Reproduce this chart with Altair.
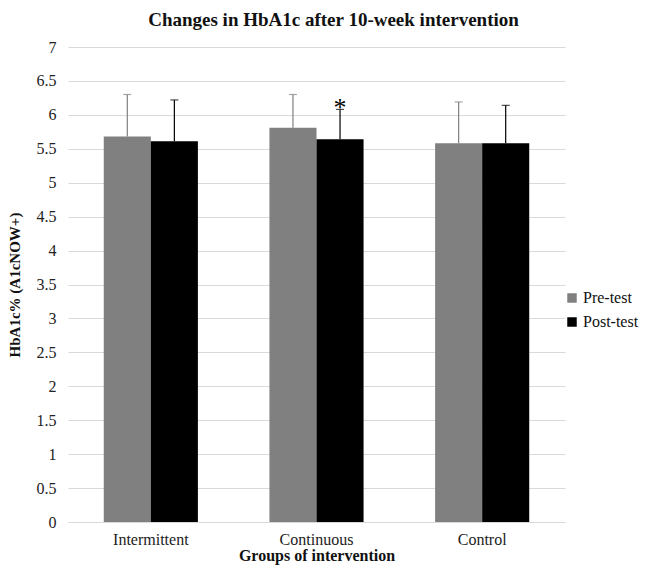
import altair as alt
import pandas as pd

groups = ["Intermittent", "Continuous", "Control"]
series = ["Pre-test", "Post-test"]
pre_mean = [5.68, 5.81, 5.58]
post_mean = [5.61, 5.64, 5.58]
pre_upper = [6.30, 6.30, 6.19]
post_upper = [6.22, 6.08, 6.14]
y_ticks = [0, 0.5, 1, 1.5, 2, 2.5, 3, 3.5, 4, 4.5, 5, 5.5, 6, 6.5, 7]
sig_group = ["Continuous"]
sig_series = ["Post-test"]
sig_pos = [6.2]

rows = []
for i, g in enumerate(groups):
    rows.append({"group": g, "series": "Pre-test", "value": pre_mean[i], "upper": pre_upper[i]})
    rows.append({"group": g, "series": "Post-test", "value": post_mean[i], "upper": post_upper[i]})
df = pd.DataFrame(rows)
sig_df = pd.DataFrame({"group": sig_group, "series": sig_series, "pos": sig_pos, "label": ["*"]})

FONT = "Liberation Serif"
COLORS = ["#808080", "#000000"]

x = alt.X("group:N", sort=groups, title="Groups of intervention",
          scale=alt.Scale(paddingInner=0, paddingOuter=0),
          axis=alt.Axis(labelAngle=0, ticks=False, domainColor="#d9d9d9",
                        labelFont=FONT, titleFont=FONT, titleFontWeight="bold",
                        labelFontSize=16, titleFontSize=16, labelPadding=9, titlePadding=0,
                        labelColor="#222222", titleColor="#111111"))
xo = alt.XOffset("series:N", sort=series, scale=alt.Scale(paddingInner=0, paddingOuter=0.76))
yscale = alt.Scale(domain=[0, 7], nice=False)
yaxis = alt.Axis(values=y_ticks, ticks=False, domain=False, gridColor="#d9d9d9",
                 labelFont=FONT, titleFont=FONT, titleFontWeight="bold", format="~g",
                 labelFontSize=16, titleFontSize=15, labelPadding=12,
                 titlePadding=14, labelColor="#222222", titleColor="#111111")
ytitle = "HbA1c% (A1cNOW+)"

color_legend = alt.Color("series:N", sort=series,
                         scale=alt.Scale(domain=series, range=COLORS),
                         legend=alt.Legend(title=None, orient="none", legendX=496, legendY=243,
                                           symbolType="square", symbolSize=90, labelOffset=3,
                                           labelFont=FONT, labelFontSize=16, rowPadding=8,
                                           labelColor="#111111", symbolStrokeWidth=0))
color_plain = alt.Color("series:N", sort=series, scale=alt.Scale(domain=series, range=COLORS), legend=None)

bars = alt.Chart(df).mark_bar().encode(
    x=x, xOffset=xo,
    y=alt.Y("value:Q", scale=yscale, title=ytitle, axis=yaxis),
    color=color_legend,
)

err = alt.Chart(df).mark_rule(strokeWidth=1.2).encode(
    x=x, xOffset=xo,
    y=alt.Y("value:Q", scale=yscale, title=ytitle, axis=yaxis), y2="upper:Q",
    color=color_plain,
)

caps = alt.Chart(df).mark_tick(size=8, thickness=1.2, orient="horizontal").encode(
    x=x, xOffset=xo,
    y=alt.Y("upper:Q", scale=yscale, title=ytitle, axis=yaxis),
    color=color_plain,
)

star = alt.Chart(sig_df).mark_text(fontSize=26, font=FONT, color="#000000", baseline="middle", dy=7).encode(
    x=x, xOffset=xo,
    y=alt.Y("pos:Q", scale=yscale, title=ytitle, axis=yaxis),
    text="label:N",
)

chart = alt.layer(bars, err, caps, star).properties(
    width=497, height=475,
    title=alt.Title("Changes in HbA1c after 10-week intervention", fontSize=19, font=FONT,
                    fontWeight="bold", color="#111111", anchor="middle", dx=17, offset=9),
    padding={"left": 60, "top": 39, "right": 82, "bottom": 49},
    autosize="none",
).configure(font=FONT).configure_view(stroke=None)

chart.save("out.html", embed_options={"renderer": "svg", "actions": False})
